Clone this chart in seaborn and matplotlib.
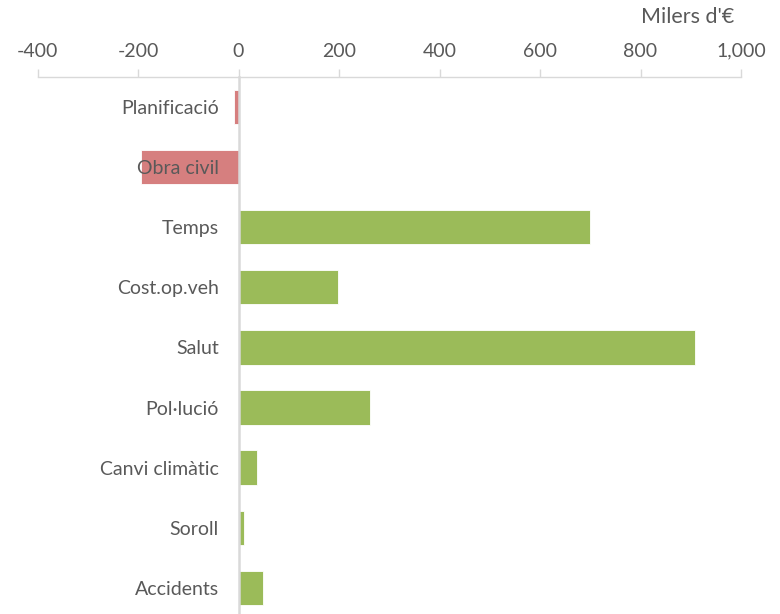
import matplotlib
matplotlib.use("Agg")
import matplotlib.pyplot as plt
import seaborn as sns
import pandas as pd

categories = ["Planificació", "Obra civil", "Temps", "Cost.op.veh", "Salut",
              "Pol·lució", "Canvi climàtic", "Soroll", "Accidents"]
values = [-8, -194, 700, 198, 908, 262, 37, 10, 49]
x_ticks = [-400, -200, 0, 200, 400, 600, 800, 1000]
x_tick_labels = ["-400", "-200", "0", "200", "400", "600", "800", "1,000"]
unit_label = "Milers d'€"

NEG = "#D67F7F"
POS = "#9BBB59"
TXT = "#595959"
GRID = "#D9D9D9"

sns.set_theme(style="white")
plt.rcParams["font.family"] = ["Lato", "DejaVu Sans"]

df = pd.DataFrame({"cat": categories, "val": values})
colors = [NEG if v < 0 else POS for v in values]

fig = plt.figure(figsize=(7.8, 6.14), dpi=100)
W, H = 780, 614
ax = fig.add_axes([37.5 / W, 0, (741 - 37.5) / W, 1 - 77 / H])

sns.barplot(data=df, x="val", y="cat", hue="cat", palette=colors, orient="h",
            width=0.57, legend=False, ax=ax, saturation=1,
            edgecolor="white", linewidth=0.6)
ax.set_axisbelow(False)

ax.set_xlim(-400, 1000)
ax.set_ylim(8.436, -0.5)
ax.set_xlabel("")
ax.set_ylabel("")

ax.xaxis.tick_top()
ax.set_xticks(x_ticks)
ax.set_xticklabels(x_tick_labels)
ax.tick_params(axis="x", which="both", top=True, bottom=False, length=5.5,
               width=1, color=GRID, pad=7, labelsize=14, labelcolor=TXT,
               direction="out")
ax.tick_params(axis="y", length=0, pad=14, labelsize=14, labelcolor=TXT)

for s in ["right", "bottom"]:
    ax.spines[s].set_visible(False)
ax.spines["top"].set_color(GRID)
ax.spines["top"].set_linewidth(1)
ax.spines["left"].set_position(("data", 0))
ax.spines["left"].set_color(GRID)
ax.spines["left"].set_linewidth(1.8)
ax.grid(False)

fig.text(734 / W, 1 - 17 / H, unit_label, ha="right", va="center",
         fontsize=15.5, color=TXT)

fig.savefig("out.png", dpi=100)
